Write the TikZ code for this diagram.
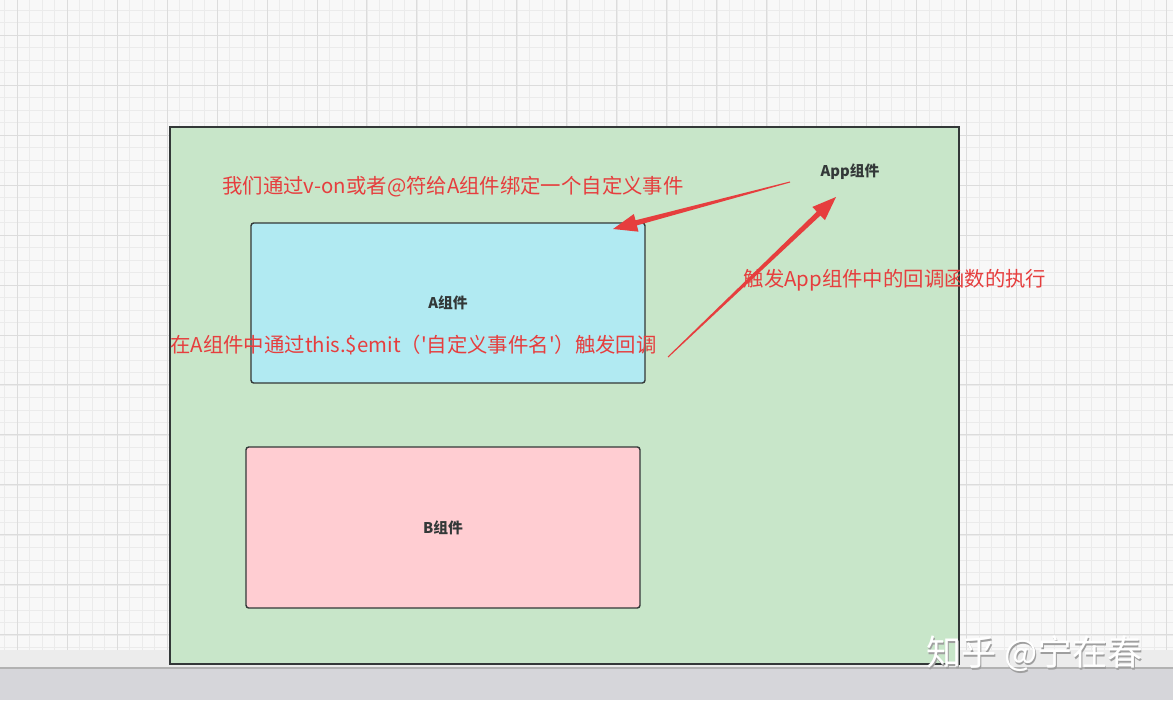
\documentclass[tikz,border=0pt]{standalone}
\usepackage{fontspec}
\setmainfont{Noto Sans CJK SC}
\usetikzlibrary{calc}

\definecolor{appgreen}{RGB}{200,230,201}
\definecolor{acyan}{RGB}{177,234,242}
\definecolor{bpink}{RGB}{255,205,210}
\definecolor{annotred}{RGB}{230,62,62}
\definecolor{edgegray}{RGB}{51,56,56}
\definecolor{paper}{RGB}{248,248,248}
\definecolor{gridminor}{RGB}{235,235,235}
\definecolor{gridmajor}{RGB}{220,220,220}
\definecolor{bandgray}{RGB}{236,236,236}
\definecolor{floorgray}{RGB}{214,214,218}

\tikzset{
  compbox/.style={draw=edgegray, line width=0.8pt, rounded corners=1.5pt, inner sep=0pt,
    text=edgegray, font=\bfseries\fontsize{8.4}{10}\selectfont},
  annot/.style={text=annotred, inner sep=0pt, font=\fontsize{11.6}{14}\selectfont},
}

% tapered red arrow from tail #1 to tip #2
\newcommand{\redarrow}[2]{%
  \coordinate (hb) at ($(#2)!0.48cm!(#1)$);
  \fill[annotred] ($(#1)!0.3pt!90:(#2)$) -- ($(hb)!1.5pt!90:(#2)$) -- ($(hb)!5.2pt!90:(#2)$)
    -- (#2) -- ($(hb)!5.2pt!-90:(#2)$) -- ($(hb)!1.5pt!-90:(#2)$) -- ($(#1)!0.3pt!-90:(#2)$) -- cycle;
}

\begin{document}
\begin{tikzpicture}[x=0.02cm,y=-0.02cm]
\useasboundingbox (0,0) rectangle (1173,700);
\fill[paper] (0,0) rectangle (1173,650);
\begin{scope}
\clip (0,0) rectangle (1173,650);
\begin{scope}[shift={(17,35)}]
\draw[gridminor, line width=0.4pt, step=0.25cm] (-17,615) grid (1156,-35);
\draw[gridmajor, line width=0.5pt, step=1cm] (-17,615) grid (1156,-35);
\end{scope}
\end{scope}
\fill[bandgray] (0,650) rectangle (1173,668);
\fill[floorgray] (0,668) rectangle (1173,700);
\draw[gray!60, line width=1pt] (0,668) -- (1173,668);

% components
\node[draw=edgegray, fill=appgreen, line width=0.8pt, inner sep=0pt,
  minimum width=15.78cm, minimum height=10.74cm] (appbox) at (564.5,395.5) {};
\node[text=edgegray, font=\bfseries\fontsize{8.4}{10}\selectfont] (applabel) at (850,172) {App组件};
\node[compbox, fill=acyan, minimum width=7.88cm, minimum height=3.2cm] (compA) at (448,303) {A组件};
\node[compbox, fill=bpink, minimum width=7.88cm, minimum height=3.22cm] (compB) at (443,527.5) {B组件};

% notes
\node[annot] (bindnote) at (453,187) {我们通过v-on或者@符给A组件绑定一个自定义事件};
\node[annot] (emitnote) at (413.5,345) {在A组件中通过this.\$emit（\textquotesingle 自定义事件名\textquotesingle ）触发回调};
\node[annot] (callnote) at (895,280) {触发App组件中的回调函数的执行};

\coordinate (bindtail) at (790,182);
\coordinate (bindtip) at (613,229);
\coordinate (calltail) at (668,357);
\coordinate (calltip) at (836,197);
\redarrow{bindtail}{bindtip}
\redarrow{calltail}{calltip}

% watermark
\node[text=gray!75, font=\fontsize{20}{24}\selectfont] (markshadow) at (1035.5,655.5) {知乎 @宁在春};
\node[text=white, font=\fontsize{20}{24}\selectfont] (mark) at (1034.5,653.5) {知乎 @宁在春};
\end{tikzpicture}
\end{document}
